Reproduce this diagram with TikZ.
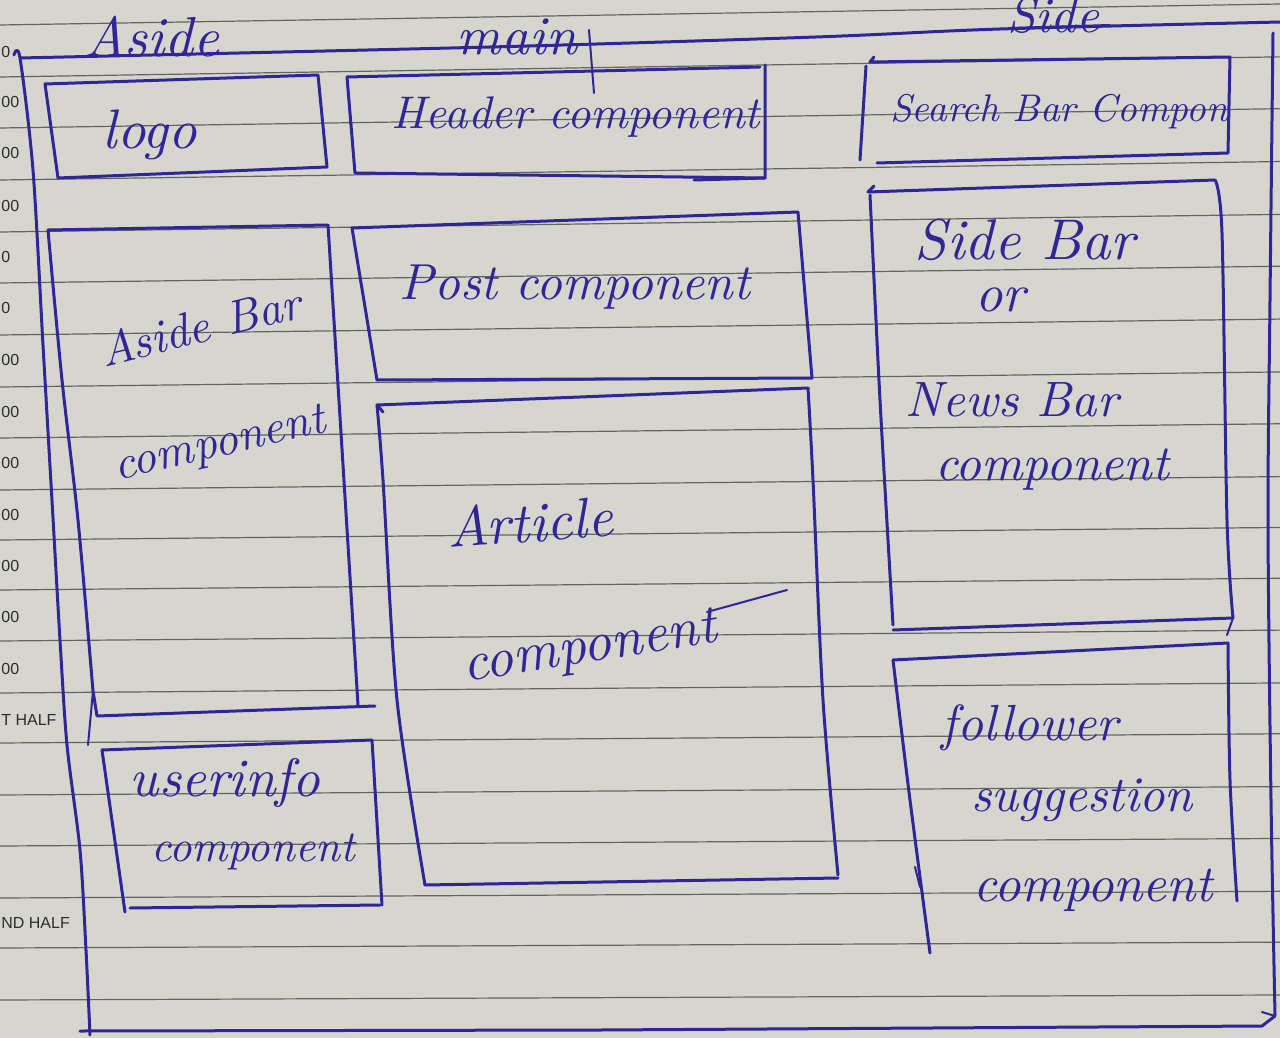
\documentclass[tikz,border=0pt]{standalone}
\usepackage{graphicx}
\usepackage{fontspec}
\newfontfamily\marginfont{Liberation Sans}
\definecolor{paper}{RGB}{214,214,207}
\definecolor{ink}{RGB}{48,38,150}
\definecolor{rulegrey}{RGB}{100,100,100}
\definecolor{margingrey}{RGB}{45,45,45}

% width-fitted handwritten label
\newcommand{\hw}[2]{\resizebox{#1}{!}{#2}}

\tikzset{
  pen/.style={draw=ink, line width=1.5pt, line cap=round, line join=round},
  thinpen/.style={draw=ink, line width=1pt, line cap=round},
  ruleline/.style={draw=rulegrey, line width=0.6pt},
  hand/.style={text=ink, inner sep=0pt, font=\itshape},
  margintext/.style={text=margingrey, inner sep=0pt, anchor=west,
    font=\marginfont\fontsize{8}{9}\selectfont},
}

\begin{document}
\begin{tikzpicture}[x=0.5pt, y=-0.5pt]
  \useasboundingbox (0,0) rectangle (1280,1038);
  \clip (0,0) rectangle (1280,1038);
  \fill[paper] (0,0) rectangle (1280,1038);

  % ruled lines of the notebook page
  \foreach \yl in {25,77,128,180,232,283,335,387,438,490,540,590,641,693,743,795,846,898,948,1000}
    \draw[ruleline] (0,\yl) -- (1280,{\yl-21+(\yl-25)*0.0164});

  % printed margin text
  \node[margintext] (m1) at (1,52) {0};
  \node[margintext] (m2) at (1,102) {00};
  \node[margintext] (m3) at (1,153) {00};
  \node[margintext] (m4) at (1,206) {00};
  \node[margintext] (m5) at (1,257) {0};
  \node[margintext] (m6) at (1,308) {0};
  \node[margintext] (m7) at (1,360) {00};
  \node[margintext] (m8) at (1,412) {00};
  \node[margintext] (m9) at (1,463) {00};
  \node[margintext] (m10) at (1,515) {00};
  \node[margintext] (m11) at (1,566) {00};
  \node[margintext] (m12) at (1,617) {00};
  \node[margintext] (m13) at (1,669) {00};
  \node[margintext] (m14) at (1,720) {T HALF};
  \node[margintext] (m15) at (1,923) {ND HALF};

  % outer page frame
  \draw[pen] plot[smooth] coordinates {(14,55) (20,58) (33,170) (43,345) (53,518) (60,640) (67,745) (80,850) (86,950) (90,1035)};
  \draw[pen] plot[smooth] coordinates {(20,58) (490,47) (816,37) (1000,29) (1280,22)};
  \draw[pen] plot[smooth] coordinates {(1273,33) (1270,300) (1268,520) (1271,800) (1275,1015)};
  \draw[pen] (80,1031) -- (600,1030) -- (1262,1026) -- (1275,1016);
  \draw[thinpen] (1262,1012) -- (1275,1016);

  % column headings
  \node[hand] (hAside) at (152,37) {\hw{67pt}{Aside}};
  \node[hand] (hMain) at (517,37) {\hw{60pt}{main}};
  \draw[thinpen] (589,30) -- (594,93);
  \node[hand] (hSide) at (1053,15) {\hw{46pt}{Side}};
  \draw[thinpen] (1010,28) -- (1110,25);

  % logo
  \draw[pen] (45,84) -- (318,75) -- (327,167) -- (58,178) -- cycle;
  \node[hand] (logo) at (150,135) {\hw{47pt}{logo}};

  % header
  \draw[pen] (347,77) -- (760,67);
  \draw[pen] (765,65) -- (765,178) -- (694,180);
  \draw[pen] (347,77) -- (355,173) -- (765,178);
  \node[hand] (header) at (576,117) {\hw{184pt}{Header component}};

  % search bar
  \draw[pen] (874,57) -- (870,62) -- (1230,57) -- (1228,153) -- (877,163);
  \draw[pen] (866,66) -- (860,160);
  \node[hand] (search) at (1059,112) {\hw{169pt}{Search Bar Compon}};

  % aside bar
  \draw[pen] plot[smooth] coordinates {(48,230) (62,380) (78,520) (93,691)};
  \draw[pen] (48,230) -- (328,225) -- (358,705);
  \draw[pen] (93,691) -- (97,716) -- (375,706);
  \draw[thinpen] (93,691) -- (88,745);
  \node[hand, rotate=14] (asidebar) at (200,326) {\hw{103pt}{Aside Bar}};
  \node[hand, rotate=13] (asidecomp) at (220,446) {\hw{108pt}{component}};

  % user info
  \draw[pen] (102,750) -- (372,740) -- (382,905);
  \draw[pen] (102,750) -- (125,912);
  \draw[pen] (130,908) -- (380,905);
  \node[hand] (userinfo) at (225,783) {\hw{95pt}{userinfo}};
  \node[hand] (usercomp) at (253,852) {\hw{102pt}{component}};

  % post
  \draw[pen] (352,228) -- (798,212) -- (812,378) -- (377,380) -- cycle;
  \node[hand] (post) at (575,287) {\hw{175pt}{Post component}};

  % article
  \draw[pen] (383,412) -- (377,405) -- (808,388);
  \draw[pen] plot[smooth] coordinates {(377,405) (383,480) (397,700) (425,885)};
  \draw[pen] plot[smooth] coordinates {(808,388) (813,480) (823,700) (838,875)};
  \draw[pen] (425,885) -- (838,878);
  \node[hand, rotate=4] (article) at (530,522) {\hw{83pt}{Article}};
  \node[hand, rotate=9] (articlecomp) at (590,650) {\hw{128pt}{component}};
  \draw[thinpen] (707,612) -- (787,590);

  % side bar / news bar
  \draw[pen] (874,186) -- (868,192) -- (1215,180);
  \draw[pen] plot[smooth] coordinates {(870,195) (880,400) (893,625)};
  \draw[pen] plot[smooth] coordinates {(1215,180) (1222,233) (1227,520) (1233,618)};
  \draw[pen] (893,630) -- (1233,618);
  \draw[thinpen] (1233,618) -- (1227,635);
  \node[hand] (sidebar) at (1025,240) {\hw{110pt}{Side Bar}};
  \node[hand] (sideor) at (1000,300) {\hw{25pt}{or}};
  \node[hand] (newsbar) at (1012,400) {\hw{106pt}{News Bar}};
  \node[hand] (sidecomp) at (1052,470) {\hw{117pt}{component}};

  % follower suggestion
  \draw[pen] (893,660) -- (1228,643);
  \draw[pen] plot[smooth] coordinates {(893,660) (910,800) (930,953)};
  \draw[pen] plot[smooth] coordinates {(1228,643) (1230,780) (1237,901)};
  \draw[thinpen] (915,867) -- (920,887);
  \node[hand] (follower) at (1030,728) {\hw{88pt}{follower}};
  \node[hand] (suggestion) at (1082,800) {\hw{111pt}{suggestion}};
  \node[hand] (followcomp) at (1093,890) {\hw{120pt}{component}};
\end{tikzpicture}
\end{document}
